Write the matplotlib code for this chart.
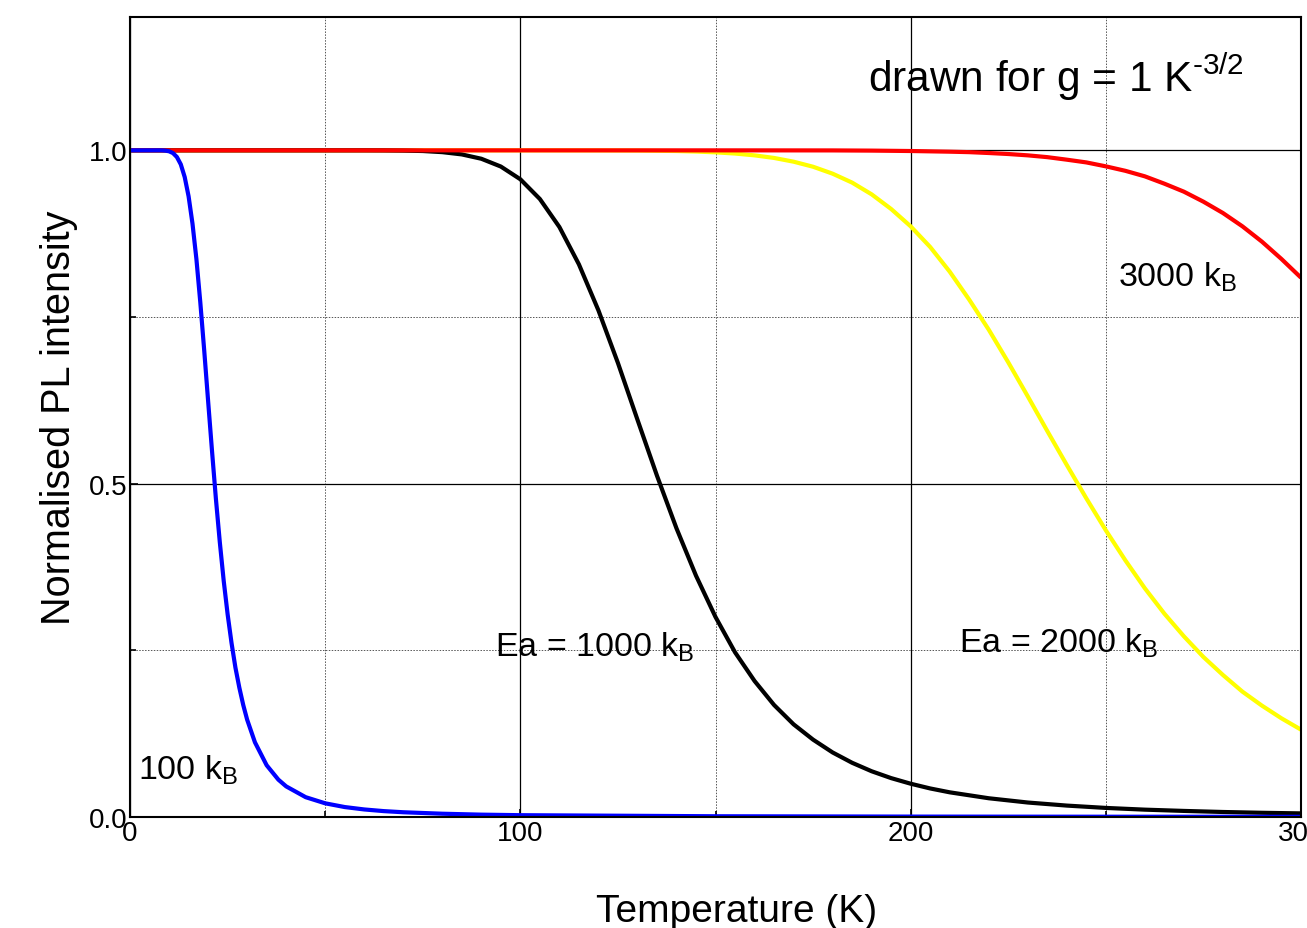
import matplotlib
matplotlib.use("Agg")
import matplotlib.pyplot as plt
from matplotlib.ticker import MultipleLocator

plt.rcParams["font.family"] = ["Liberation Sans", "DejaVu Sans"]
plt.rcParams["mathtext.fontset"] = "custom"
plt.rcParams["mathtext.rm"] = "Liberation Sans"
plt.rcParams["mathtext.it"] = "Liberation Sans"
plt.rcParams["mathtext.default"] = "regular"

# Normalised PL intensity versus temperature for four activation energies
t_100 = [0, 5, 8, 9, 10, 11, 12, 13, 14, 15, 16, 17, 18, 19, 20, 21, 22, 23,
         24, 25, 26, 27, 28, 29, 30, 32, 35, 38, 40, 45, 50, 55, 60, 65, 70,
         80, 90, 100, 150, 200, 250, 300]
i_100 = [1.0, 1.0, 1.0, 0.9996, 0.9986, 0.9959, 0.990, 0.979, 0.960, 0.931,
         0.890, 0.837, 0.772, 0.700, 0.624, 0.549, 0.477, 0.412, 0.354, 0.304,
         0.261, 0.224, 0.194, 0.168, 0.146, 0.112, 0.0776, 0.0560, 0.0459,
         0.0297, 0.0205, 0.0149, 0.0113, 0.0088, 0.0071, 0.0049, 0.0035,
         0.0027, 0.0011, 0.0006, 0.0004, 0.0003]

t_1000 = [0, 50, 60, 65, 70, 75, 80, 85, 90, 95, 100, 105, 110, 115, 120, 125,
          130, 135, 140, 145, 150, 155, 160, 165, 170, 175, 180, 185, 190, 195,
          200, 205, 210, 220, 230, 240, 250, 260, 270, 280, 290, 300]
i_1000 = [1.0, 1.0, 1.0, 0.9999, 0.9996, 0.999, 0.9973, 0.9939, 0.9874, 0.9757,
          0.9566, 0.927, 0.885, 0.829, 0.760, 0.681, 0.596, 0.512, 0.433, 0.362,
          0.300, 0.247, 0.204, 0.168, 0.139, 0.116, 0.0968, 0.0813, 0.0686,
          0.0583, 0.0499, 0.0428, 0.037, 0.0281, 0.0217, 0.0171, 0.0136,
          0.0110, 0.0091, 0.0075, 0.0063, 0.0054]

t_2000 = [0, 100, 120, 130, 140, 145, 150, 155, 160, 165, 170, 175, 180, 185,
          190, 195, 200, 205, 210, 215, 220, 225, 230, 235, 240, 245, 250, 255,
          260, 265, 270, 275, 280, 285, 290, 295, 300]
i_2000 = [1.0, 1.0, 0.9999, 0.9997, 0.999, 0.9982, 0.997, 0.9952, 0.9925,
          0.9886, 0.983, 0.9754, 0.965, 0.9516, 0.934, 0.912, 0.886, 0.855,
          0.818, 0.776, 0.731, 0.682, 0.631, 0.579, 0.528, 0.478, 0.430, 0.385,
          0.343, 0.305, 0.271, 0.240, 0.213, 0.188, 0.167, 0.148, 0.131]

t_3000 = [0, 150, 180, 190, 200, 210, 215, 220, 225, 230, 235, 240, 245, 250,
          255, 260, 265, 270, 275, 280, 285, 290, 295, 300]
i_3000 = [1.0, 1.0, 0.9999, 0.9996, 0.999, 0.998, 0.9973, 0.996, 0.9945,
          0.9925, 0.9898, 0.986, 0.9819, 0.976, 0.9693, 0.961, 0.950, 0.938,
          0.923, 0.906, 0.886, 0.863, 0.837, 0.809]

fig = plt.figure(figsize=(13.07, 9.29), dpi=100)
ax = fig.add_axes([0.0995, 0.1195, 0.8959, 0.8611])

ax.grid(which="major", color="black", linewidth=0.9, linestyle="-")
ax.grid(which="minor", color="#555555", linewidth=0.7, linestyle=(0, (1.5, 1.5)))
ax.set_axisbelow(True)

lw = 3.0
ax.plot(t_2000, i_2000, color="#ffff00", lw=lw, solid_capstyle="butt")
ax.plot(t_1000, i_1000, color="black", lw=lw, solid_capstyle="butt")
ax.plot(t_3000, i_3000, color="#ff0000", lw=lw, solid_capstyle="butt")
ax.plot(t_100, i_100, color="#0000ff", lw=lw, solid_capstyle="butt")

ax.set_xlim(0, 300)
ax.set_ylim(0, 1.2)
ax.xaxis.set_major_locator(MultipleLocator(100))
ax.xaxis.set_minor_locator(MultipleLocator(50))
ax.set_yticks([0.0, 0.5, 1.0])
ax.set_yticks([0.25, 0.75], minor=True)
ax.set_yticklabels(["0.0", "0.5", "1.0"])
ax.tick_params(which="both", direction="in", labelsize=20, width=1.2)
ax.tick_params(which="major", length=6)
ax.tick_params(which="minor", length=4)
ax.tick_params(axis="x", pad=2)
ax.tick_params(axis="y", pad=2)
for s in ax.spines.values():
    s.set_linewidth(1.5)

ax.set_xlabel("Temperature (K)", fontsize=28)
ax.xaxis.set_label_coords(0.518, -0.095)
ax.set_ylabel("Normalised PL intensity", fontsize=28.5, labelpad=8)

lab = dict(fontsize=24.5, ha="left", va="baseline")
ax.text(2, 0.057, r"100 k$_\mathrm{B}$", **lab)
ax.text(93.6, 0.242, r"Ea = 1000 k$_\mathrm{B}$", **lab)
ax.text(212.3, 0.248, r"Ea = 2000 k$_\mathrm{B}$", **lab)
ax.text(253, 0.797, r"3000 k$_\mathrm{B}$", **lab)
ax.text(189, 1.09, r"drawn for g = 1 K$^\text{-3/2}$", fontsize=30.5,
        ha="left", va="baseline")

fig.savefig("out.png", dpi=100)
